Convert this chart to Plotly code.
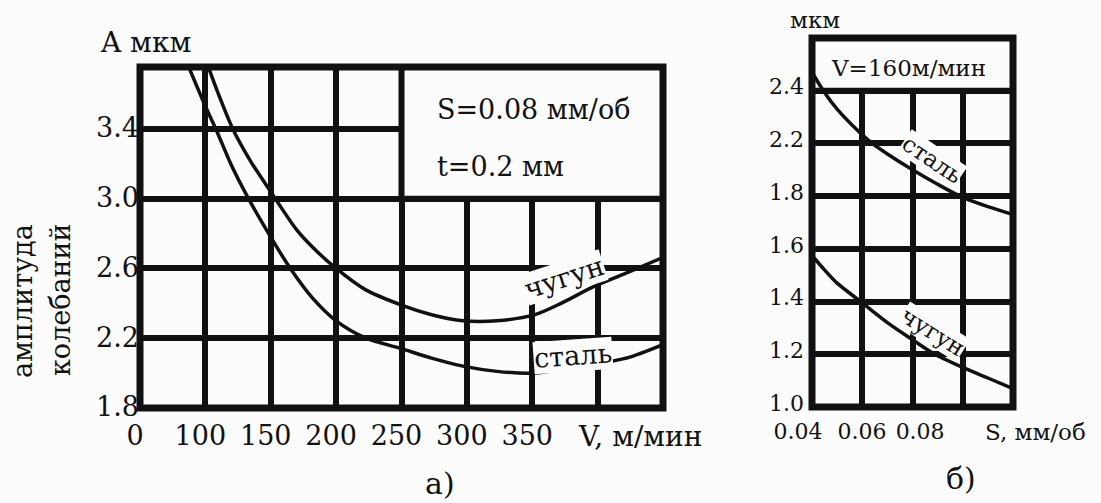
import plotly.graph_objects as go

# ---------------- data: panel a) amplitude vs cutting speed ----------------
V_CAST = [102, 110, 121, 135, 150, 170, 185, 200, 222, 250, 273, 297, 323, 352, 372, 398, 424, 449]
A_CAST = [3.76, 3.60, 3.40, 3.21, 3.04, 2.82, 2.70, 2.60, 2.48, 2.39, 2.335, 2.30, 2.30, 2.335, 2.40, 2.50, 2.58, 2.66]

V_STEEL = [87, 100, 108, 120, 133, 150, 165, 182, 200, 223, 250, 273, 297, 323, 350, 372, 398, 424, 449]
A_STEEL = [3.76, 3.53, 3.40, 3.19, 3.00, 2.78, 2.60, 2.43, 2.30, 2.20, 2.14, 2.086, 2.04, 2.01, 2.00, 2.02, 2.05, 2.09, 2.16]

V_TICK_TEXT = ["0", "100", "150", "200", "250", "300", "350"]
A_TICKS = [1.8, 2.2, 2.6, 3.0, 3.4]

# ---------------- data: panel б) amplitude vs feed ----------------
S_STEEL = [0.040, 0.0445, 0.050, 0.0585, 0.064, 0.070, 0.080, 0.090, 0.100, 0.110, 0.120]
B_STEEL = [2.27, 2.20, 2.13, 2.046, 2.00, 1.96, 1.90, 1.845, 1.795, 1.76, 1.73]

S_CAST = [0.040, 0.045, 0.050, 0.058, 0.070, 0.080, 0.088, 0.100, 0.110, 0.120]
B_CAST = [1.575, 1.52, 1.47, 1.41, 1.32, 1.255, 1.205, 1.15, 1.11, 1.07]

S_TICK_TEXT = ["0.04", "0.06", "0.08"]
B_TICK_TEXT = ["1.0", "1.2", "1.4", "1.6", "1.8", "2.2", "2.4"]

# ---------------- styling / layout ----------------
W, H = 1101, 503
INK = "#111111"
BG = "#fcfcfc"
FONT = "DejaVu Serif"
GRID_W = 6

V_LABEL_POS = [50, 100, 150, 200, 250, 300, 350]
V_GRID = [100, 150, 200, 250, 300, 350, 400]
S_LABEL_POS = [0.040, 0.0655, 0.0886]
S_GRID = [0.06, 0.08, 0.10]
B_POS = [1.0, 1.2, 1.4, 1.6, 1.8, 2.0, 2.2]


def px_x(p):
    return p / W


def px_y(p):
    return 1 - p / H


fig = go.Figure()
line_style = dict(color=INK, width=3.5, shape="spline", smoothing=0.8)
fig.add_trace(go.Scatter(x=V_CAST, y=A_CAST, mode="lines", line=line_style,
                         name="чугун", showlegend=False, xaxis="x", yaxis="y"))
fig.add_trace(go.Scatter(x=V_STEEL, y=A_STEEL, mode="lines", line=line_style,
                         name="сталь", showlegend=False, xaxis="x", yaxis="y"))
fig.add_trace(go.Scatter(x=S_STEEL, y=B_STEEL, mode="lines", line=line_style,
                         name="сталь", showlegend=False, xaxis="x2", yaxis="y2"))
fig.add_trace(go.Scatter(x=S_CAST, y=B_CAST, mode="lines", line=line_style,
                         name="чугун", showlegend=False, xaxis="x2", yaxis="y2"))

common = dict(zeroline=False, showline=False, ticks="", fixedrange=True, automargin=False)

fig.update_layout(
    width=W, height=H, autosize=False,
    margin=dict(l=0, r=0, t=0, b=0),
    paper_bgcolor=BG, plot_bgcolor=BG,
    font=dict(family=FONT, color=INK),
    xaxis=dict(domain=[px_x(140), px_x(663)], anchor="y", range=[50, 450],
               tickmode="array", tickvals=V_LABEL_POS, ticktext=V_TICK_TEXT,
               tickangle=0, showgrid=False, ticklabelshift=-5, ticklabelstandoff=9,
               tickfont=dict(family=FONT, size=27, color=INK),
               minor=dict(tickmode="array", tickvals=V_GRID, showgrid=True,
                          gridcolor=INK, gridwidth=GRID_W, ticks=""),
               **common),
    yaxis=dict(domain=[px_y(408), px_y(67)], anchor="x", range=[1.8, 3.755],
               tickmode="array", tickvals=A_TICKS,
               ticktext=[f"{v:.1f}" for v in A_TICKS], ticklabelshift=-1,
               showgrid=True, gridcolor=INK, gridwidth=GRID_W,
               tickfont=dict(family=FONT, size=27, color=INK),
               **common),
    xaxis2=dict(domain=[px_x(812), px_x(1013)], anchor="y2", range=[0.04, 0.12],
                tickmode="array", tickvals=S_LABEL_POS, ticktext=S_TICK_TEXT,
                tickangle=0, showgrid=False, ticklabelshift=-14, ticklabelstandoff=9,
                tickfont=dict(family=FONT, size=22, color=INK),
                minor=dict(tickmode="array", tickvals=S_GRID, showgrid=True,
                           gridcolor=INK, gridwidth=GRID_W, ticks=""),
                **common),
    yaxis2=dict(domain=[px_y(407), px_y(38)], anchor="x2", range=[1.0, 2.4],
                tickmode="array", tickvals=B_POS, ticktext=B_TICK_TEXT,
                ticklabelshift=-4, ticklabelstandoff=7,
                showgrid=True, gridcolor=INK, gridwidth=GRID_W,
                tickfont=dict(family=FONT, size=22, color=INK),
                **common),
)

# boxes holding the conditions (cover the grid, bordered like grid lines)
fig.add_shape(type="rect", xref="x", yref="y", x0=250, x1=450, y0=3.0, y1=3.755,
              fillcolor=BG, line=dict(color=INK, width=GRID_W), layer="between")
fig.add_shape(type="rect", xref="x2", yref="y2", x0=0.04, x1=0.12, y0=2.2, y1=2.4,
              fillcolor=BG, line=dict(color=INK, width=GRID_W), layer="between")
# frames
for xr, yr in (("x domain", "y domain"), ("x2 domain", "y2 domain")):
    fig.add_shape(type="rect", xref=xr, yref=yr, x0=0, x1=1, y0=0, y1=1,
                  line=dict(color=INK, width=7), fillcolor="rgba(0,0,0,0)", layer="above")


def ann(text, x, y, size, xref="paper", yref="paper", angle=0, bg=None, xanchor="center"):
    d = dict(text=text, x=x, y=y, xref=xref, yref=yref, showarrow=False,
             textangle=angle, xanchor=xanchor, yanchor="middle",
             font=dict(family=FONT, size=size, color=INK), borderpad=0)
    if bg:
        d["bgcolor"] = bg
    fig.add_annotation(**d)


# panel a texts
ann("S=0.08 мм/об", 276, 3.51, 27, xref="x", yref="y", xanchor="left")
ann("t=0.2 мм", 276, 3.185, 27, xref="x", yref="y", xanchor="left")
ann("чугун", 374, 2.55, 27, xref="x", yref="y", angle=-18, bg=BG)
ann("сталь", 381, 2.10, 27, xref="x", yref="y", angle=-4, bg=BG)
ann("A мкм", px_x(145), px_y(43), 28)
ann("амплитуда", px_x(22), px_y(301), 27, angle=-90)
ann("колебаний", px_x(60), px_y(300), 27, angle=-90)
ann("V, м/мин", px_x(640), px_y(436), 28)
ann("а)", px_x(440), px_y(483), 30)

# panel б texts
ann("V=160м/мин", 0.0783, 2.285, 23, xref="x2", yref="y2")
ann("сталь", 0.0876, 1.94, 23, xref="x2", yref="y2", angle=34, bg=BG)
ann("чугун", 0.0883, 1.285, 23, xref="x2", yref="y2", angle=32, bg=BG)
ann("мкм", px_x(815), px_y(20), 23)
ann("S, мм/об", px_x(1035), px_y(432), 23)
ann("б)", px_x(961), px_y(478), 30)

fig.write_html("out.html", config={"displayModeBar": False},
               post_script="document.body.style.margin='0px';")
